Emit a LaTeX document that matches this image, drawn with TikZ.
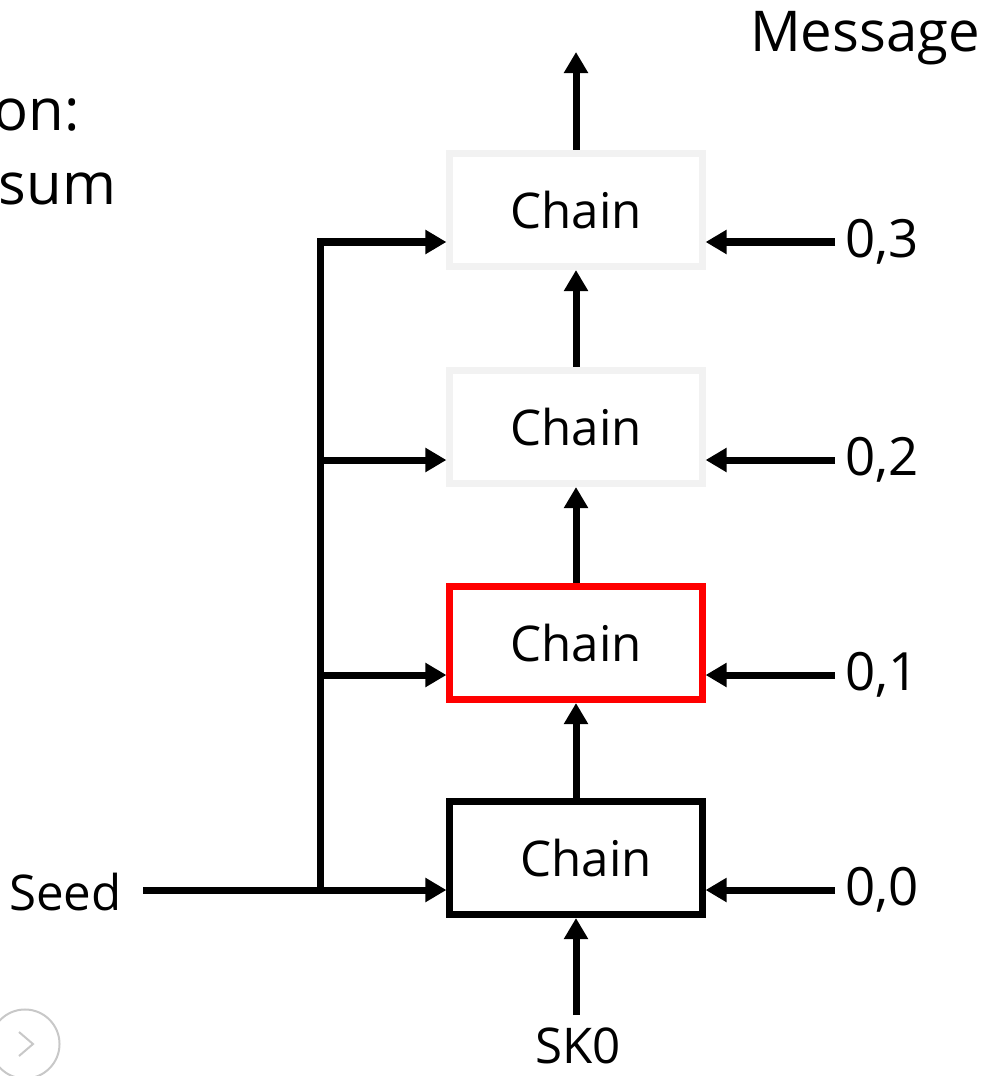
\documentclass[tikz,border=0pt]{standalone}
\usepackage{fontspec}
\setmainfont{Open Sans}
\usepackage{xcolor}
\usetikzlibrary{arrows.meta}
\definecolor{boxgray}{HTML}{F2F2F2}
\definecolor{navgray}{HTML}{C8C8C8}

\begin{document}
\begin{tikzpicture}
			[x=0.01cm,y=-0.01cm,
			 every node/.style={font=\fontsize{14}{17}\selectfont},
			 chain/.style={draw,line width=0.07cm,minimum width=2.52cm,minimum height=1.13cm,inner sep=0pt},
			 arr/.style={line width=0.07cm,-{Triangle[length=0.21cm,width=0.23cm]}},
			 lbl/.style={anchor=west,inner sep=0.1cm,font=\fontsize{15}{18}\selectfont}]
				\useasboundingbox (0,0) rectangle (986,1076);
				\node[chain] (c0) at (576,858) {\hspace{0.2cm}Chain};
				\node[chain,draw=red] (c1) at (576,643) {Chain};
				\node[chain,draw=boxgray] (c2) at (576,427) {Chain};
				\node[chain,draw=boxgray] (c3) at (576,210) {Chain};
				\node[anchor=base,font=\fontsize{16}{19}\selectfont] (msg) at (865,52) {Message};
				\node (sk) at (578,1046) {SK0};
				\node[anchor=east] (seed) at (134,892) {Seed};
				% restliche Zeilen vom Text links oben
				\node[anchor=base west,inner sep=0pt,font=\fontsize{16.5}{20}\selectfont] (t1) at (-7,130) {on:};
				\node[anchor=base west,inner sep=0pt,font=\fontsize{16.5}{20}\selectfont] (t2) at (-2,205) {sum};
				\coordinate (top) at (576,52);
				\coordinate (bot) at (576,1015);
				\coordinate (s0) at (143,890);
				\coordinate (j) at (320,890);
				\draw[arr] (c3) -- (top);
				\draw[arr] (bot) -- (c0);
				\foreach \from/\to in {c0/c1,c1/c2,c2/c3}
				\draw[arr] (\from) -- (\to);
				\foreach \i/\y in {0/890,1/675,2/460,3/242}
				{
					\coordinate (r\i) at (835,\y);
					\node[lbl] (k\i) at (r\i) {0,\i};
					\draw[arr] (r\i) -- (c\i.east |- r\i);
				}
				\draw[arr] (s0) -- (c0.west |- s0);
				\draw[arr] (j) |- (c3.west |- r3);
				\foreach \i in {1,2}
				{
					\coordinate (l\i) at (j |- r\i);
					\draw[arr] (l\i) -- (c\i.west |- r\i);
				}
				% Weiter-Knopf unten links
				\node[circle,draw=navgray,line width=0.02cm,minimum size=0.69cm,inner sep=0pt] (nav) at (25,1044) {};
				\draw[navgray,line width=0.02cm] ([shift={(-6,-12)}]nav.center) -- ([shift={(8,0)}]nav.center) -- ([shift={(-6,12)}]nav.center);
			\end{tikzpicture}
\end{document}
